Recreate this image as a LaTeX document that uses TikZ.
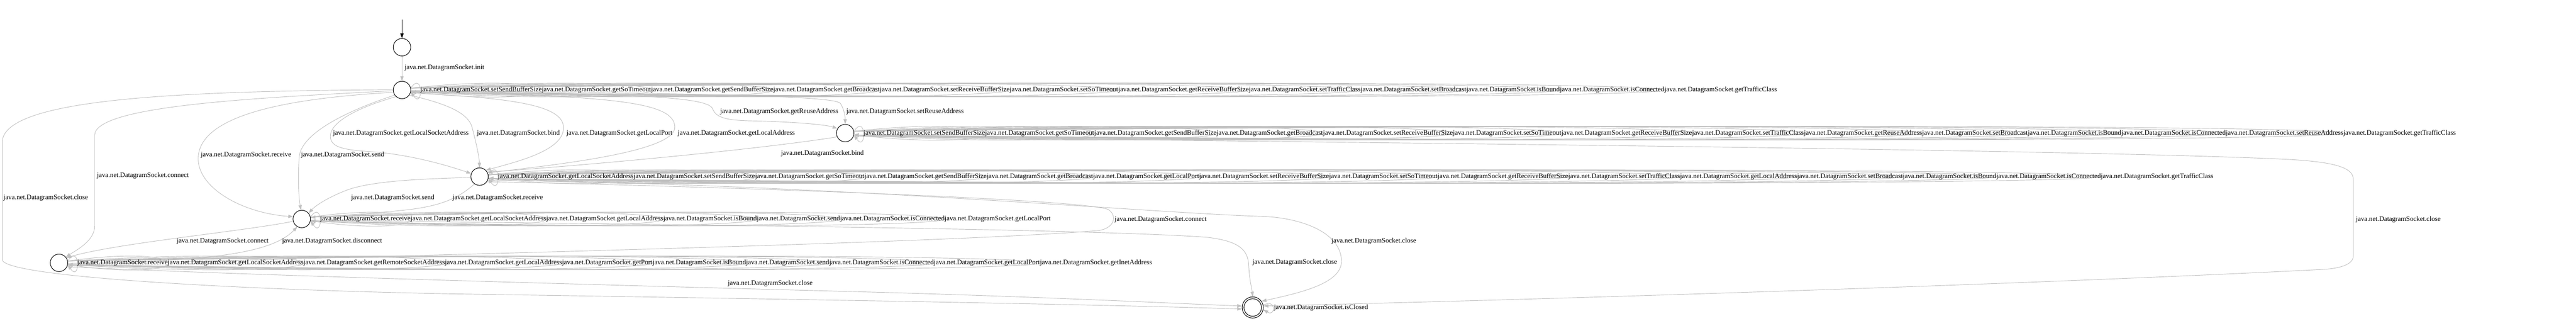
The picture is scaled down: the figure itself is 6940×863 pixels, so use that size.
\documentclass[tikz,border=0pt]{standalone}
\usepackage{fontspec}
\newfontfamily\lf{Liberation Serif}
\usetikzlibrary{arrows.meta,calc}
\pgfdeclarelayer{edges}
\pgfsetlayers{edges,main}
\definecolor{eg}{RGB}{192,192,192}
\newcommand\mkloop[2]{\coordinate (lc) at ($(#1.east)!1.3333!(#2.west)$);\draw[gedge] (#1.12) .. controls ([yshift=55pt]lc) and ([yshift=-55pt]lc) .. (#1.-12);}
\newcommand\rowlab[3]{\node[lbl] (#1) at (#2.east) {java.net.DatagramSocket.#3};}
\begin{document}
\begin{tikzpicture}[x=1pt,y=1pt,
  stt/.style={circle,draw=black,line width=1.4pt,minimum size=47pt,inner sep=0pt},
  gedge/.style={draw=eg,line width=1.3pt,-{Triangle[length=13pt,width=9pt]}},
  lbl/.style={font=\lf\fontsize{18.45}{20}\selectfont,inner sep=0pt,anchor=west,text=black}]
\useasboundingbox (0,0) rectangle (6940,863);
% states
\node[stt] (n0) at (1083,736) {};
\node[stt] (n1) at (1083,621) {};
\node[stt] (n2) at (2277,505) {};
\node[stt] (n3) at (1292,388) {};
\node[stt] (n4) at (813,274) {};
\node[stt] (n5) at (159,156) {};
\node[stt] (nfi) at (3375,36) {};
\node[circle,draw=black,line width=1.4pt,minimum size=57pt,inner sep=0pt] (nf) at (3375,36) {};
\coordinate (start) at (1083,810);
% loop labels row 1
\node[lbl] (a1) at ([xshift=25pt]n1.east) {java.net.DatagramSocket.setSendBufferSize};
\rowlab{a2}{a1}{getSoTimeout}
\rowlab{a3}{a2}{getSendBufferSize}
\rowlab{a4}{a3}{getBroadcast}
\rowlab{a5}{a4}{setReceiveBufferSize}
\rowlab{a6}{a5}{setSoTimeout}
\rowlab{a7}{a6}{getReceiveBufferSize}
\rowlab{a8}{a7}{setTrafficClass}
\rowlab{a9}{a8}{setBroadcast}
\rowlab{a10}{a9}{isBound}
\rowlab{a11}{a10}{isConnected}
\rowlab{a12}{a11}{getTrafficClass}
% row 2
\node[lbl] (b1) at ([xshift=25pt]n2.east) {java.net.DatagramSocket.setSendBufferSize};
\rowlab{b2}{b1}{getSoTimeout}
\rowlab{b3}{b2}{getSendBufferSize}
\rowlab{b4}{b3}{getBroadcast}
\rowlab{b5}{b4}{setReceiveBufferSize}
\rowlab{b6}{b5}{setSoTimeout}
\rowlab{b7}{b6}{getReceiveBufferSize}
\rowlab{b8}{b7}{setTrafficClass}
\rowlab{b9}{b8}{getReuseAddress}
\rowlab{b10}{b9}{setBroadcast}
\rowlab{b11}{b10}{isBound}
\rowlab{b12}{b11}{isConnected}
\rowlab{b13}{b12}{setReuseAddress}
\rowlab{b14}{b13}{getTrafficClass}
% row 3
\node[lbl] (c1) at ([xshift=25pt]n3.east) {java.net.DatagramSocket.getLocalSocketAddress};
\rowlab{c2}{c1}{setSendBufferSize}
\rowlab{c3}{c2}{getSoTimeout}
\rowlab{c4}{c3}{getSendBufferSize}
\rowlab{c5}{c4}{getBroadcast}
\rowlab{c6}{c5}{getLocalPort}
\rowlab{c7}{c6}{setReceiveBufferSize}
\rowlab{c8}{c7}{setSoTimeout}
\rowlab{c9}{c8}{getReceiveBufferSize}
\rowlab{c10}{c9}{setTrafficClass}
\rowlab{c11}{c10}{getLocalAddress}
\rowlab{c12}{c11}{setBroadcast}
\rowlab{c13}{c12}{isBound}
\rowlab{c14}{c13}{isConnected}
\rowlab{c15}{c14}{getTrafficClass}
% row 4
\node[lbl] (d1) at ([xshift=25pt]n4.east) {java.net.DatagramSocket.receive};
\rowlab{d2}{d1}{getLocalSocketAddress}
\rowlab{d3}{d2}{getLocalAddress}
\rowlab{d4}{d3}{isBound}
\rowlab{d5}{d4}{send}
\rowlab{d6}{d5}{isConnected}
\rowlab{d7}{d6}{getLocalPort}
% row 5
\node[lbl] (e1) at ([xshift=25pt]n5.east) {java.net.DatagramSocket.receive};
\rowlab{e2}{e1}{getLocalSocketAddress}
\rowlab{e3}{e2}{getRemoteSocketAddress}
\rowlab{e4}{e3}{getLocalAddress}
\rowlab{e5}{e4}{getPort}
\rowlab{e6}{e5}{isBound}
\rowlab{e7}{e6}{send}
\rowlab{e8}{e7}{isConnected}
\rowlab{e9}{e8}{getLocalPort}
\rowlab{e10}{e9}{getInetAddress}
% edge labels
\node[lbl] (linit) at (1090,681) {java.net.DatagramSocket.init};
\node[lbl] (lc1) at (9,331) {java.net.DatagramSocket.close};
\node[lbl] (lcon1) at (261,390) {java.net.DatagramSocket.connect};
\node[lbl] (lrec1) at (541,446) {java.net.DatagramSocket.receive};
\node[lbl] (lsend1) at (811,446) {java.net.DatagramSocket.send};
\node[lbl] (llsa) at (897,505) {java.net.DatagramSocket.getLocalSocketAddress};
\node[lbl] (lbind1) at (1285,505) {java.net.DatagramSocket.bind};
\node[lbl] (llp) at (1526,505) {java.net.DatagramSocket.getLocalPort};
\node[lbl] (lla) at (1826,505) {java.net.DatagramSocket.getLocalAddress};
\node[lbl] (lgra) at (1940,563) {java.net.DatagramSocket.getReuseAddress};
\node[lbl] (lsra) at (2280,563) {java.net.DatagramSocket.setReuseAddress};
\node[lbl] (lbind2) at (2104,450) {java.net.DatagramSocket.bind};
\node[lbl] (lsend2) at (946,331) {java.net.DatagramSocket.send};
\node[lbl] (lrec2) at (1219,331) {java.net.DatagramSocket.receive};
\node[lbl] (lcon2) at (476,215) {java.net.DatagramSocket.connect};
\node[lbl] (ldis) at (760,215) {java.net.DatagramSocket.disconnect};
\node[lbl] (lcon3) at (3003,273) {java.net.DatagramSocket.connect};
\node[lbl] (lc4) at (3374,157) {java.net.DatagramSocket.close};
\node[lbl] (lc3) at (3587,215) {java.net.DatagramSocket.close};
\node[lbl] (lc2) at (6347,273) {java.net.DatagramSocket.close};
\node[lbl] (lc5) at (1961,100) {java.net.DatagramSocket.close};
\node[lbl] (lisc) at (3432,36) {java.net.DatagramSocket.isClosed};
\begin{pgfonlayer}{edges}
% self loops
\mkloop{n1}{a1}\mkloop{n1}{a2}\mkloop{n1}{a3}\mkloop{n1}{a4}\mkloop{n1}{a5}\mkloop{n1}{a6}
\mkloop{n1}{a7}\mkloop{n1}{a8}\mkloop{n1}{a9}\mkloop{n1}{a10}\mkloop{n1}{a11}\mkloop{n1}{a12}
\mkloop{n2}{b1}\mkloop{n2}{b2}\mkloop{n2}{b3}\mkloop{n2}{b4}\mkloop{n2}{b5}\mkloop{n2}{b6}\mkloop{n2}{b7}
\mkloop{n2}{b8}\mkloop{n2}{b9}\mkloop{n2}{b10}\mkloop{n2}{b11}\mkloop{n2}{b12}\mkloop{n2}{b13}\mkloop{n2}{b14}
\mkloop{n3}{c1}\mkloop{n3}{c2}\mkloop{n3}{c3}\mkloop{n3}{c4}\mkloop{n3}{c5}\mkloop{n3}{c6}\mkloop{n3}{c7}\mkloop{n3}{c8}
\mkloop{n3}{c9}\mkloop{n3}{c10}\mkloop{n3}{c11}\mkloop{n3}{c12}\mkloop{n3}{c13}\mkloop{n3}{c14}\mkloop{n3}{c15}
\mkloop{n4}{d1}\mkloop{n4}{d2}\mkloop{n4}{d3}\mkloop{n4}{d4}\mkloop{n4}{d5}\mkloop{n4}{d6}\mkloop{n4}{d7}
\mkloop{n5}{e1}\mkloop{n5}{e2}\mkloop{n5}{e3}\mkloop{n5}{e4}\mkloop{n5}{e5}\mkloop{n5}{e6}\mkloop{n5}{e7}
\mkloop{n5}{e8}\mkloop{n5}{e9}\mkloop{n5}{e10}
\draw[gedge] (nf.12) .. controls (3438,62) and (3438,10) .. (nf.-12);
% transitions
\draw[line width=1.3pt,-{Triangle[length=13pt,width=9pt]}] (start) -- (n0);
\draw[gedge] (n0) -- (n1);
\draw[gedge] (n1.178) .. controls (500,618) and (6,600) .. (6,480) -- (6,165) .. controls (6,120) and (600,85) .. (1200,73) .. controls (1900,62) and (2900,46) .. (nf.188);
\draw[gedge] (n1.185) .. controls (700,600) and (258,580) .. (255,500) -- (255,255) .. controls (255,215) and (205,190) .. (n5.40);
\draw[gedge] (n1.195) .. controls (800,600) and (540,560) .. (534,440) .. controls (530,360) and (650,290) .. (n4.165);
\draw[gedge] (n1.215) .. controls (920,560) and (810,500) .. (806,440) .. controls (802,380) and (805,330) .. (n4.95);
\draw[gedge] (n1.228) .. controls (950,570) and (888,530) .. (890,495) .. controls (892,465) and (930,460) .. (1000,455) .. controls (1100,448) and (1200,420) .. (n3.160);
\draw[gedge] (n1.-35) .. controls (1200,585) and (1262,560) .. (1272,520) .. controls (1285,470) and (1291,440) .. (n3.north);
\draw[gedge] (n1.-20) .. controls (1380,600) and (1515,580) .. (1518,522) .. controls (1522,460) and (1400,430) .. (n3.45);
\draw[gedge] (n1.-12) .. controls (1650,605) and (1815,590) .. (1818,522) .. controls (1822,455) and (1500,420) .. (n3.25);
\draw[gedge] (n1.-7) .. controls (1750,612) and (1910,600) .. (1920,570) .. controls (1930,545) and (1960,540) .. (2020,538) .. controls (2130,536) and (2225,528) .. (n2.150);
\draw[gedge] (n1.-4) .. controls (1900,612) and (2250,605) .. (2264,585) .. controls (2274,570) and (2277,550) .. (n2.north);
\draw[gedge] (n2.205) .. controls (2050,462) and (1600,420) .. (n3.30);
\draw[gedge] (n3.185) .. controls (1150,382) and (1000,378) .. (930,350) .. controls (880,330) and (850,310) .. (n4.40);
\draw[gedge] (n3.235) .. controls (1235,330) and (1190,310) .. (1100,299) .. controls (1000,288) and (880,281) .. (n4.10);
\draw[gedge] (n4.195) .. controls (650,240) and (320,210) .. (n5.35);
\draw[gedge] (n5.-3) .. controls (560,160) and (730,180) .. (n4.240);
\draw[gedge] (n3.-35) .. controls (1800,365) and (2900,330) .. (2985,300) .. controls (3010,285) and (3005,250) .. (2960,243) .. controls (2500,205) and (800,170) .. (n5.-15);
\draw[gedge] (n4.-8) .. controls (1500,262) and (2900,250) .. (3250,225) .. controls (3340,215) and (3362,190) .. (3364,150) .. controls (3366,110) and (3372,90) .. (nf.north);
\draw[gedge] (n3.-25) .. controls (2200,370) and (3100,290) .. (3400,281) .. controls (3500,278) and (3614,240) .. (3614,160) .. controls (3614,100) and (3500,75) .. (nf.35);
\draw[gedge] (n2.-20) .. controls (3000,485) and (5500,465) .. (6150,435) .. controls (6300,428) and (6340,410) .. (6340,380) -- (6340,175) .. controls (6340,150) and (6300,140) .. (6250,138) .. controls (5500,100) and (4200,58) .. (nf.8);
\draw[gedge] (n5.-25) .. controls (600,125) and (1500,100) .. (2250,80) .. controls (2800,66) and (3200,45) .. (nf.172);
\end{pgfonlayer}
\end{tikzpicture}
\end{document}
